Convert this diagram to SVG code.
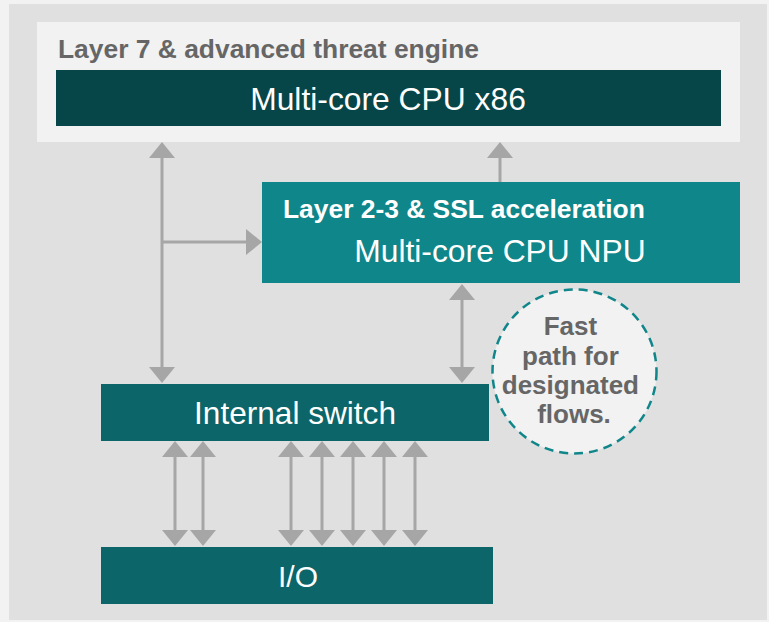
<svg xmlns="http://www.w3.org/2000/svg" width="769" height="622" viewBox="0 0 769 622">
<style>
.bold{font-family:"Liberation Sans",Arial,sans-serif;font-weight:bold}
.reg{font-family:"Liberation Sans",Arial,sans-serif}
.conn{stroke:#A6A6A6;stroke-width:3;fill:none}
</style>
<defs>
<marker id="ah" viewBox="0 0 16 26" refX="1" refY="13" markerWidth="16" markerHeight="26" markerUnits="userSpaceOnUse" orient="auto-start-reverse">
<path d="M0,0 L16,13 L0,26 z" fill="#A6A6A6"/>
</marker>
</defs>
<rect x="0" y="0" width="769" height="622" fill="#F2F2F2"/>
<rect x="9" y="4" width="758" height="616" fill="#E0E0E0"/>
<g id="l7">
<rect x="37" y="22" width="703" height="120" fill="#F2F2F2"/>
<text x="58" y="58" class="bold" font-size="26.4" fill="#666666">Layer 7 &amp; advanced threat engine</text>
</g>
<g id="x86">
<rect x="56" y="70" width="665" height="56" fill="#064548"/>
<text x="388" y="110" class="reg" font-size="31.8" fill="#FFFFFF" text-anchor="middle">Multi-core CPU x86</text>
</g>
<g id="npu">
<rect x="262" y="182" width="478" height="101" fill="#0F868A"/>
<text x="283" y="218" class="bold" font-size="26.4" fill="#FFFFFF">Layer 2-3 &amp; SSL acceleration</text>
<text x="500" y="262" class="reg" font-size="31.8" fill="#FFFFFF" text-anchor="middle">Multi-core CPU NPU</text>
</g>
<g id="switch">
<rect x="101" y="384" width="388" height="57" fill="#0C6569"/>
<text x="295" y="424" class="reg" font-size="31.6" fill="#FFFFFF" text-anchor="middle">Internal switch</text>
</g>
<g id="io">
<rect x="101" y="547" width="392" height="57" fill="#0C6569"/>
<text x="298" y="587" class="reg" font-size="30" fill="#FFFFFF" text-anchor="middle">I/O</text>
</g>
<g id="fastpath">
<circle cx="574.5" cy="371.5" r="82" fill="#F2F2F2" stroke="#0F868A" stroke-width="2.5" stroke-dasharray="9,6"/>
<text class="bold" font-size="26" fill="#666666" text-anchor="middle">
<tspan x="574" y="335">Fast</tspan>
<tspan x="574" y="365">path for</tspan>
<tspan x="574" y="394">designated</tspan>
<tspan x="574" y="423">flows.</tspan>
</text>
</g>
<g id="connectors">
<line class="conn" x1="162" y1="157" x2="162" y2="368" marker-start="url(#ah)" marker-end="url(#ah)"/>
<line class="conn" x1="162" y1="242" x2="247" y2="242" marker-end="url(#ah)"/>
<line class="conn" x1="500" y1="182" x2="500" y2="157" marker-end="url(#ah)"/>
<line class="conn" x1="462" y1="299" x2="462" y2="368" marker-start="url(#ah)" marker-end="url(#ah)"/>
<line class="conn" x1="175" y1="456" x2="175" y2="531" marker-start="url(#ah)" marker-end="url(#ah)"/>
<line class="conn" x1="203" y1="456" x2="203" y2="531" marker-start="url(#ah)" marker-end="url(#ah)"/>
<line class="conn" x1="291" y1="456" x2="291" y2="531" marker-start="url(#ah)" marker-end="url(#ah)"/>
<line class="conn" x1="322" y1="456" x2="322" y2="531" marker-start="url(#ah)" marker-end="url(#ah)"/>
<line class="conn" x1="353" y1="456" x2="353" y2="531" marker-start="url(#ah)" marker-end="url(#ah)"/>
<line class="conn" x1="384" y1="456" x2="384" y2="531" marker-start="url(#ah)" marker-end="url(#ah)"/>
<line class="conn" x1="415" y1="456" x2="415" y2="531" marker-start="url(#ah)" marker-end="url(#ah)"/>
</g>
</svg>
